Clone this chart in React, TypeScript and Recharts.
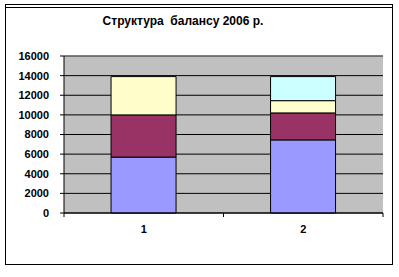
import { BarChart, Bar, XAxis, YAxis, CartesianGrid, ReferenceLine } from "recharts";

const categories = ["1", "2"];
const series1 = [5700, 7450];
const series2 = [4300, 2750];
const series3 = [3900, 1250];
const series4 = [0, 2450];
const yTicks = [0, 2000, 4000, 6000, 8000, 10000, 12000, 14000, 16000];

const COLORS = ["#9999FF", "#993366", "#FFFFCC", "#CCFFFF"];

const data = categories.map((name, i) => ({
  name,
  s1: series1[i],
  s2: series2[i],
  s3: series3[i],
  s4: series4[i],
}));

const FONT = "Arial, 'Liberation Sans', sans-serif";
const tickFont = { fontFamily: FONT, fontSize: 11, fontWeight: 700, fill: "#000" };

// category label, plus tick marks on the band edges (Excel style)
function CategoryTick(props: any) {
  const { x, y, payload, index, width, visibleTicksCount } = props;
  const half = width / visibleTicksCount / 2;
  return (
    <g>
      <line x1={x - half} x2={x - half} y1={y} y2={y + 4} stroke="#000" />
      {index === visibleTicksCount - 1 && (
        <line x1={x + half} x2={x + half} y1={y} y2={y + 4} stroke="#000" />
      )}
      <text x={x} y={y + 20} textAnchor="middle" {...tickFont}>
        {payload.value}
      </text>
    </g>
  );
}

export default function App() {
  return (
    <div style={{ position: "absolute", left: 0, top: 0, width: 399, height: 277, background: "#fff" }}>
      <div
        style={{
          position: "absolute",
          left: 5,
          top: 4,
          width: 386,
          height: 259,
          border: "1px solid #000",
        }}
      />
      <div style={{ position: "absolute", left: 5, top: 7, width: 388, height: 1, background: "#000" }} />
      <div
        style={{
          position: "absolute",
          left: 0,
          top: 14,
          width: 366,
          textAlign: "center",
          fontFamily: FONT,
          fontSize: 12,
          fontWeight: 700,
          whiteSpace: "pre",
        }}
      >
        {"Структура  балансу 2006 р."}
      </div>
      <BarChart
        width={399}
        height={277}
        data={data}
        margin={{ top: 56, right: 16, left: 0, bottom: 34 }}
        barCategoryGap="29.5%"
        style={{ position: "absolute", left: 0, top: 0 }}
      >
        <CartesianGrid vertical={false} fill="#C0C0C0" stroke="#000" strokeOpacity={1} />
        <XAxis
          dataKey="name"
          height={30}
          interval={0}
          tickLine={false}
          tickSize={0}
          tickMargin={0}
          axisLine={{ stroke: "#000" }}
          tick={<CategoryTick />}
        />
        <YAxis
          width={64}
          domain={[0, 16000]}
          ticks={yTicks}
          interval={0}
          tickSize={4}
          tickMargin={11}
          tickLine={{ stroke: "#000" }}
          axisLine={{ stroke: "#000" }}
          tick={tickFont}
        />
        <YAxis yAxisId="right" orientation="right" width={0} domain={[0, 16000]} tick={false} tickLine={false} axisLine={{ stroke: "#808080" }} />
        <ReferenceLine y={16000} stroke="#808080" />
        <Bar dataKey="s1" stackId="a" fill={COLORS[0]} stroke="#000" isAnimationActive={false} />
        <Bar dataKey="s2" stackId="a" fill={COLORS[1]} stroke="#000" isAnimationActive={false} />
        <Bar dataKey="s3" stackId="a" fill={COLORS[2]} stroke="#000" isAnimationActive={false} />
        <Bar dataKey="s4" stackId="a" fill={COLORS[3]} stroke="#000" isAnimationActive={false} />
      </BarChart>
    </div>
  );
}
